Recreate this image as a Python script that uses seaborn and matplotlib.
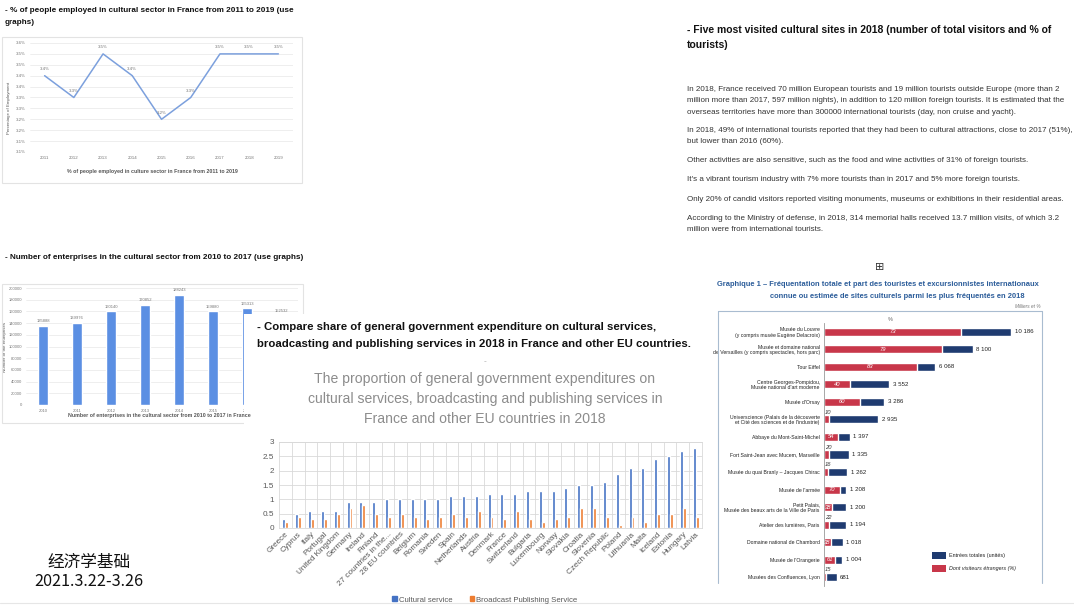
import numpy as np
import pandas as pd
import seaborn as sns
import matplotlib.pyplot as plt
from matplotlib.patches import Rectangle, Patch
from matplotlib.lines import Line2D

W, H = 1074, 606

# --- data: % employed in culture ---
emp_years = [2011, 2012, 2013, 2014, 2015, 2016, 2017, 2018, 2019]
emp_share = [3.45, 3.35, 3.55, 3.45, 3.25, 3.35, 3.55, 3.55, 3.55]
emp_point_labels = ['3.4%', '3.3%', '3.5%', '3.4%', '3.2%', '3.3%', '3.5%', '3.5%', '3.5%']
emp_ticks = [3.10, 3.15, 3.20, 3.25, 3.30, 3.35, 3.40, 3.45, 3.50, 3.55, 3.60]
emp_tick_labels = ['3.1%', '3.1%', '3.2%', '3.2%', '3.3%', '3.3%', '3.4%', '3.4%', '3.5%', '3.5%', '3.6%']

# --- data: number of enterprises ---
ent_years = ['2010', '2011', '2012', '2013', '2014', '2015', '2016', '2017']
ent_counts = [135888, 139976, 160140, 170852, 188243, 159880, 165313, 152532]
ent_ticks = [0, 20000, 40000, 60000, 80000, 100000, 120000, 140000, 160000, 180000, 200000]

# --- data: government expenditure share, 2018 ---
countries = ['Greece', 'Cyprus', 'Italy', 'Portugal', 'United Kingdom', 'Germany', 'Ireland',
             'Finland', '27 countries in the...', '28 EU countries', 'Belgium', 'Romania',
             'Sweden', 'Spain', 'Netherlands', 'Austria', 'Denmark', 'France', 'Switzerland',
             'Bulgaria', 'Luxembourg', 'Norway', 'Slovakia', 'Croatia', 'Slovenia',
             'Czech Republic', 'Poland', 'Lithuania', 'Malta', 'Iceland', 'Estonia',
             'Hungary', 'Latvia']
cultural = [0.3, 0.5, 0.6, 0.6, 0.6, 0.9, 0.9, 0.9, 1.0, 1.0, 1.0, 1.0, 1.0, 1.1, 1.1, 1.1, 1.2,
            1.2, 1.2, 1.3, 1.3, 1.3, 1.4, 1.5, 1.5, 1.6, 1.9, 2.1, 2.1, 2.4, 2.5, 2.7, 2.8]
broadcast = [0.2, 0.4, 0.3, 0.3, 0.5, 0.7, 0.8, 0.5, 0.4, 0.5, 0.4, 0.3, 0.4, 0.5, 0.4, 0.6, 0.4,
             0.3, 0.6, 0.3, 0.2, 0.3, 0.4, 0.7, 0.7, 0.4, 0.1, 0.4, 0.2, 0.5, 0.5, 0.7, 0.4]
eu_ticks = [0, 0.5, 1, 1.5, 2, 2.5, 3]
eu_tick_labels = ['0', '0.5', '1', '1.5', '2', '2.5', '3']

# --- data: most visited cultural sites 2018 ---
sites = ['Musée du Louvre\n(y compris musée Eugène Delacroix)',
         'Musée et domaine national\nde Versailles (y compris spectacles, hors parc)',
         'Tour Eiffel',
         'Centre Georges-Pompidou,\nMusée national d\'art moderne',
         'Musée d\'Orsay',
         'Universcience (Palais de la découverte\net Cité des sciences et de l\'industrie)',
         'Abbaye du Mont-Saint-Michel',
         'Fort Saint-Jean avec Mucem, Marseille',
         'Musée du quai Branly – Jacques Chirac',
         'Musée de l\'armée',
         'Petit Palais,\nMusée des beaux arts de la Ville de Paris',
         'Atelier des lumières, Paris',
         'Domaine national de Chambord',
         'Musée de l\'Orangerie',
         'Musées des Confluences, Lyon']
site_total = [10186, 8100, 6068, 3552, 3286, 2935, 1397, 1335, 1262, 1208, 1200, 1194, 1018, 1004, 681]
site_foreign_pct = [73, 79, 83, 40, 60, 10, 54, 20, 16, 70, 38, 22, 38, 61, 15]

paragraphs = [
    "In 2018, France received 70 million European tourists and 19 million tourists outside Europe (more than 2\n"
    "million more than 2017, 597 million nights), in addition to 120 million foreign tourists. It is estimated that the\n"
    "overseas territories have more than 300000 international tourists (day, non cruise and yacht).",
    "In 2018, 49% of international tourists reported that they had been to cultural attractions, close to 2017 (51%),\n"
    "but lower than 2016 (60%).",
    "Other activities are also sensitive, such as the food and wine activities of 31% of foreign tourists.",
    "It's a vibrant tourism industry with 7% more tourists than in 2017 and 5% more foreign tourists.",
    "Only 20% of candid visitors reported visiting monuments, museums or exhibitions in their residential areas.",
    "According to the Ministry of defense, in 2018, 314 memorial halls received 13.7 million visits, of which 3.2\n"
    "million were from international tourists.",
]
para_y = [88, 129, 159, 178, 198, 217]

sns.set_theme(style='white')
plt.rcParams['font.family'] = ['Liberation Sans', 'DejaVu Sans']
CJK = ['Noto Sans CJK SC', 'DejaVu Sans']

fig = plt.figure(figsize=(W / 100, H / 100), dpi=100)


def px_axes(x0, y0, x1, y1):
    return fig.add_axes([x0 / W, 1 - y1 / H, (x1 - x0) / W, (y1 - y0) / H])


def ftext(x, y, s, **kw):
    kw.setdefault('va', 'center')
    return fig.text(x / W, 1 - y / H, s, **kw)


def frect(x0, y0, x1, y1, **kw):
    r = Rectangle((x0 / W, 1 - y1 / H), (x1 - x0) / W, (y1 - y0) / H,
                  transform=fig.transFigure, **kw)
    fig.add_artist(r)
    return r


# ===== top-left: line chart =====
ftext(5, 11, '- % of people employed in cultural sector in France from 2011 to 2019 (use',
      fontsize=5.9, fontweight='bold', color='#111')
ftext(5, 22, 'graphs)', fontsize=5.9, fontweight='bold', color='#111')
frect(2, 37, 302, 183, fill=False, edgecolor='#e3e3e3', lw=0.8)

ax1 = px_axes(30, 43, 293, 152)
sns.lineplot(x=emp_years, y=emp_share, ax=ax1, color='#7ca0dd', linewidth=1.1)
ax1.set_xlim(2010.5, 2019.5)
ax1.set_ylim(3.1, 3.6)
ax1.set_yticks(emp_ticks, emp_tick_labels)
ax1.set_xticks(emp_years, [str(y) for y in emp_years])
ax1.tick_params(labelsize=3.2, colors='#777', length=0, pad=3)
ax1.grid(axis='y', color='#e8e8e8', lw=0.5)
sns.despine(ax=ax1, left=True, bottom=True)
for x, y, lab in zip(emp_years, emp_share, emp_point_labels):
    ax1.annotate(lab, (x, y), xytext=(0, 4), textcoords='offset points',
                 ha='center', fontsize=3.2, color='#777')
ax1.set_ylabel('Percentage of Employment', fontsize=3.2, color='#555')
ax1.yaxis.set_label_coords(-0.072, 0.4)
ax1.set_xlabel('')
ftext(152, 172, '% of people employed in culture sector in France from 2011 to 2019',
      ha='center', fontsize=3.8, fontweight='bold', color='#555')

# ===== left: enterprises bar chart =====
ftext(5, 257, '- Number of enterprises in the cultural sector from 2010 to 2017 (use graphs)',
      fontsize=5.85, fontweight='bold', color='#111')
frect(2, 284, 303, 423, fill=False, edgecolor='#e3e3e3', lw=0.8)

ax2 = px_axes(26, 288, 298, 405)
sns.barplot(x=ent_years, y=ent_counts, ax=ax2, color='#5b8fe3', width=0.3, saturation=1)
ax2.set_xlim(-0.5, 7.5)
ax2.set_ylim(0, 200000)
ax2.set_yticks(ent_ticks, [str(t) for t in ent_ticks])
ax2.tick_params(labelsize=3.0, colors='#777', length=0, pad=3)
ax2.grid(axis='y', color='#e8e8e8', lw=0.5)
ax2.set_axisbelow(True)
sns.despine(ax=ax2, left=True, bottom=True)
ax2.bar_label(ax2.containers[0], labels=[str(v) for v in ent_counts],
              fontsize=3.0, color='#777', padding=2)
ax2.set_ylabel('Number of the enterprises', fontsize=3.2, color='#555')
ax2.yaxis.set_label_coords(-0.07, 0.5)
ax2.set_xlabel('')
ftext(159, 416, 'Number of enterprises in the cultural sector from 2010 to 2017 in France',
      ha='center', fontsize=3.8, fontweight='bold', color='#555')

# ===== middle: EU expenditure chart (white panel over the bar chart) =====
frect(244, 314, 706, 606, facecolor='white', edgecolor='none', zorder=2)
ftext(257, 327, '- Compare share of general government expenditure on cultural services,',
      fontsize=8.2, fontweight='bold', color='#111', zorder=4)
ftext(257, 344, 'broadcasting and publishing services in 2018 in France and other EU countries.',
      fontsize=8.2, fontweight='bold', color='#111', zorder=4)
ftext(485, 362, '-', ha='center', fontsize=6, color='#aaa', zorder=4)
ftext(485, 399, 'The proportion of general government expenditures on\n'
      'cultural services, broadcasting and publishing services in\n'
      'France and other EU countries in 2018',
      ha='center', fontsize=10.1, color='#8c8c8c', linespacing=1.55, zorder=4)

eu = pd.DataFrame({
    'country': countries * 2,
    'value': cultural + broadcast,
    'series': ['Cultural service'] * len(countries) + ['Broadcast Publishing Service'] * len(countries),
})
ax3 = px_axes(279, 442, 702, 528)
ax3.set_zorder(3)
sns.barplot(data=eu, x='country', y='value', hue='series',
            palette=['#4472c4', '#ed7d31'], width=0.46, saturation=1, ax=ax3, legend=False)
ax3.set_xlim(-0.5, len(countries) - 0.5)
ax3.set_ylim(0, 3)
ax3.set_yticks(eu_ticks, eu_tick_labels)
ax3.set_xticks(range(len(countries)), countries, rotation=45, ha='right', rotation_mode='anchor')
ax3.set_xticks(np.arange(len(countries) - 1) + 0.5, minor=True)
ax3.tick_params(axis='both', which='both', length=0, labelsize=5.9, labelcolor='#595959')
ax3.tick_params(axis='x', pad=2)
ax3.grid(axis='y', which='major', color='#d9d9d9', lw=0.6)
ax3.grid(axis='x', which='minor', color='#d9d9d9', lw=0.6)
ax3.set_axisbelow(True)
for s in ax3.spines.values():
    s.set_color('#d9d9d9')
    s.set_linewidth(0.6)
ax3.set_xlabel('')
ax3.set_ylabel('')
ax3.legend(handles=[Patch(color='#4472c4', label='Cultural service'),
                    Patch(color='#ed7d31', label='Broadcast Publishing Service')],
           loc='center', bbox_to_anchor=(485 / W, 1 - 600 / H), bbox_transform=fig.transFigure,
           ncol=2, frameon=False, fontsize=5.6, labelcolor='#595959',
           handlelength=0.55, handleheight=0.55, handletextpad=0.3, columnspacing=2.2)

# ===== right: text =====
ftext(687, 30, '- Five most visited cultural sites in 2018 (number of total visitors and % of',
      fontsize=7.5, fontweight='bold', color='#111')
ftext(687, 45, 'tourists)', fontsize=7.5, fontweight='bold', color='#111')
for y, p in zip(para_y, paragraphs):
    fig.text(687 / W, 1 - (y - 2) / H, p, va='top', fontsize=5.72, color='#333', linespacing=1.85)

ftext(880, 267, '⊞', ha='center', fontsize=8, color='#333', family=['DejaVu Sans'])

# ===== right: French chart =====
ftext(717, 285, 'Graphique 1 – Fréquentation totale et part des touristes et excursionnistes internationaux',
      fontsize=5.45, fontweight='bold', color='#2c5d9a')
ftext(770, 296, 'connue ou estimée de sites culturels parmi les plus fréquentés en 2018',
      fontsize=5.45, fontweight='bold', color='#2c5d9a')
ftext(1041, 306, 'Milliers et %', ha='right', fontsize=3.4, style='italic', color='#777')
for xs, ys in [((718, 718), (311, 583)), ((718, 1042), (311, 311)), ((1042, 1042), (311, 583))]:
    fig.add_artist(Line2D([x / W for x in xs], [1 - y / H for y in ys],
                          transform=fig.transFigure, color='#a9bcd0', lw=0.8))

foreign = [t * p / 100 for t, p in zip(site_total, site_foreign_pct)]
ax4 = px_axes(824, 323, 1040, 586)
sns.barplot(x=site_total, y=sites, orient='h', color='#1f3b70', width=0.46, saturation=1, ax=ax4)
sns.barplot(x=foreign, y=sites, orient='h', color='#c8374a', width=0.46, saturation=1, ax=ax4)
ax4.set_xlim(0, 11760)
ax4.set_ylim(len(sites) - 0.5, -0.5)
ax4.set_xticks([])
ax4.tick_params(axis='y', length=0, pad=3)
for lab in ax4.get_yticklabels():
    lab.set_fontsize(3.7)
    lab.set_color('#222')
    lab.set_linespacing(1.1)
sns.despine(ax=ax4, top=True, right=True, bottom=True)
ax4.spines['left'].set_color('#999')
ax4.spines['left'].set_linewidth(0.6)
ax4.set_xlabel('')
ax4.set_ylabel('')
for i, (t, f, p) in enumerate(zip(site_total, foreign, site_foreign_pct)):
    ax4.text(t + 200, i, f'{t:,}'.replace(',', ' '), va='center', fontsize=4.4, color='#222')
    if p >= 30:
        ax4.text(max(f / 2, 170), i, str(p), ha='center', va='center', fontsize=4.2,
                 style='italic', color='white')
    else:
        ax4.text(30, i - 0.42, str(p), ha='left', va='center', fontsize=4.2,
                 style='italic', color='#333')
ftext(890, 320, '%', ha='center', fontsize=4, color='#666')

frect(932, 552, 946, 559, facecolor='#1f3b70', edgecolor='none')
frect(932, 565, 946, 572, facecolor='#c8374a', edgecolor='none')
ftext(949, 555.5, 'Entrées totales (unités)', fontsize=3.9, color='#222')
ftext(949, 568.5, 'Dont visiteurs étrangers (%)', fontsize=3.9, style='italic', color='#222')

# ===== bottom-left caption =====
ftext(89, 563, '经济学基础', ha='center', fontsize=12, family=CJK, color='#111')
ftext(89, 582, '2021.3.22-3.26', ha='center', fontsize=11.7, family=CJK, color='#111')
fig.add_artist(Line2D([0, 1], [1 - 603 / H, 1 - 603 / H], transform=fig.transFigure,
                      color='#e6e6e6', lw=0.8))

fig.savefig('out.png', dpi=100)
